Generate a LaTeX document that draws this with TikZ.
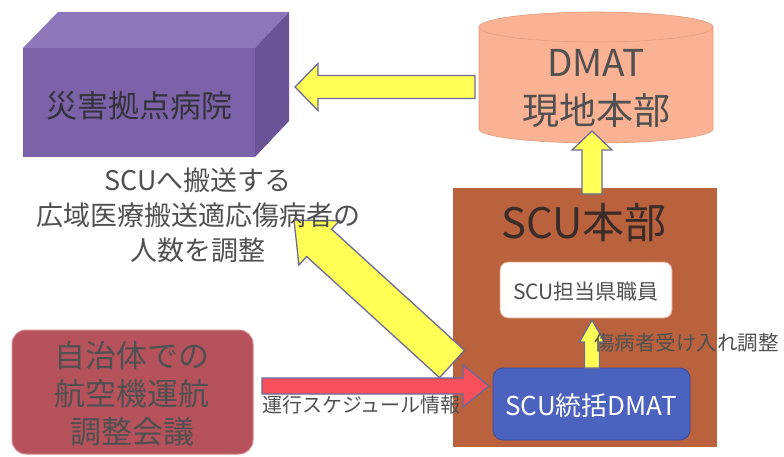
\documentclass[tikz,border=0pt]{standalone}
\usepackage{fontspec}
\setmainfont{Noto Sans CJK JP}
\usetikzlibrary{calc}
\definecolor{hfront}{HTML}{7B62A9}
\definecolor{htop}{HTML}{8D76BA}
\definecolor{hside}{HTML}{6A5396}
\definecolor{cylfill}{HTML}{F9B294}
\definecolor{cyltop}{HTML}{FAB99C}
\definecolor{cyledge}{HTML}{E39C7E}
\definecolor{scufill}{HTML}{B9623D}
\definecolor{bluefill}{HTML}{4B62BE}
\definecolor{blueedge}{HTML}{3A4C9C}
\definecolor{redbox}{HTML}{B5525B}
\definecolor{redboxedge}{HTML}{D48A90}
\definecolor{arrowyel}{HTML}{FFFF55}
\definecolor{arrowred}{HTML}{F5505C}
\definecolor{arrowedge}{HTML}{6E6A96}
\definecolor{txt}{HTML}{505050}
\definecolor{txtdark}{HTML}{3A2C28}
\newcommand{\blockarrow}[6]{%
  \path ($(#2)!#5!(#1)$) coordinate (bah);
  \draw[#6] ($(#1)!#3!90:(#2)$) -- ($(bah)!#3!-90:(#1)$) -- ($(bah)!#4!-90:(#1)$)
    -- (#2) -- ($(bah)!#4!90:(#1)$) -- ($(bah)!#3!90:(#1)$) -- ($(#1)!#3!-90:(#2)$) -- cycle;
}
\tikzset{
  blockarr/.style={draw=arrowedge, line width=1.3pt, line join=miter},
  yel/.style={blockarr, fill=arrowyel},
  redarr/.style={blockarr, fill=arrowred},
  lbl/.style={inner sep=0pt, text=txt, align=center},
}
\begin{document}
\begin{tikzpicture}[x=1pt, y=-1pt]
\useasboundingbox (0,0) rectangle (784,457);
% hospital box
\fill[htop] (23,48) -- (58,12) -- (289,12) -- (255,48) -- cycle;
\fill[hside] (255,48) -- (289,12) -- (289,121) -- (255,157) -- cycle;
\fill[hfront] (23,48) rectangle (255,157);
\node[lbl, text=txt!80!hfront!60!black, font={\fontsize{31pt}{36pt}\selectfont}] (hosp) at (139,106) {災害拠点病院};
% DMAT cylinder
\filldraw[fill=cylfill, draw=cyledge, line width=0.6pt] (479,27) -- (479,129) arc (180:360:117pt and 14pt) -- (713,27) arc (0:180:117pt and 15pt) -- cycle;
\draw[cyledge, line width=0.6pt] (479,27) arc (180:360:117pt and 15pt);
\node[lbl, font={\fontsize{37pt}{48pt}\selectfont}] (dmat) at (596,89) {DMAT\\現地本部};
% SCU box
\fill[scufill] (453,188) rectangle (717,447);
\node[lbl, text=txtdark, font={\fontsize{42pt}{48pt}\selectfont}] (scu) at (584,223) {SCU本部};
\filldraw[fill=white, draw=cyledge, line width=0.8pt, rounded corners=8pt] (500,262) rectangle (672,318);
\node[lbl, font={\fontsize{21pt}{24pt}\selectfont}] (staff) at (586,292) {SCU担当県職員};
\filldraw[fill=bluefill, draw=blueedge, line width=0.8pt, rounded corners=10pt] (493,368) rectangle (690,440);
\node[lbl, text=white, font={\fontsize{26pt}{30pt}\selectfont}] (scudmat) at (591,406) {SCU統括DMAT};
% red box
\filldraw[fill=redbox, draw=redboxedge, line width=1pt, rounded corners=14pt] (12,330) rectangle (253,454);
\node[lbl, font={\fontsize{31pt}{38pt}\selectfont}] (conf) at (132,394) {自治体での\\航空機運航\\調整会議};
% arrows
\coordinate (a1t) at (475,87); \coordinate (a1h) at (295,87);
\coordinate (a2t) at (592,194); \coordinate (a2h) at (592,131);
\coordinate (a3t) at (592,368); \coordinate (a3h) at (592,320);
\coordinate (a4t) at (452,364); \coordinate (a4h) at (294,220);
\coordinate (a5t) at (262,386); \coordinate (a5h) at (489,386);
\blockarrow{a1t}{a1h}{11.5pt}{23.5pt}{23pt}{yel}
\blockarrow{a2t}{a2h}{10pt}{20pt}{19pt}{yel}
\blockarrow{a3t}{a3h}{7.5pt}{12.5pt}{22pt}{yel}
\blockarrow{a4t}{a4h}{18.5pt}{30pt}{34pt}{yel}
\blockarrow{a5t}{a5h}{8pt}{21pt}{26pt}{redarr}
% labels
\node[lbl, font={\fontsize{27pt}{35pt}\selectfont}] (note) at (198,215) {SCUへ搬送する\\広域医療搬送適応傷病者の\\人数を調整};
\node[lbl, anchor=west, font={\fontsize{20.5pt}{24pt}\selectfont}] (recv) at (594,343) {傷病者受け入れ調整};
\node[lbl, anchor=west, font={\fontsize{20pt}{24pt}\selectfont}] (sched) at (262,405) {運行スケジュール情報};
\end{tikzpicture}
\end{document}
